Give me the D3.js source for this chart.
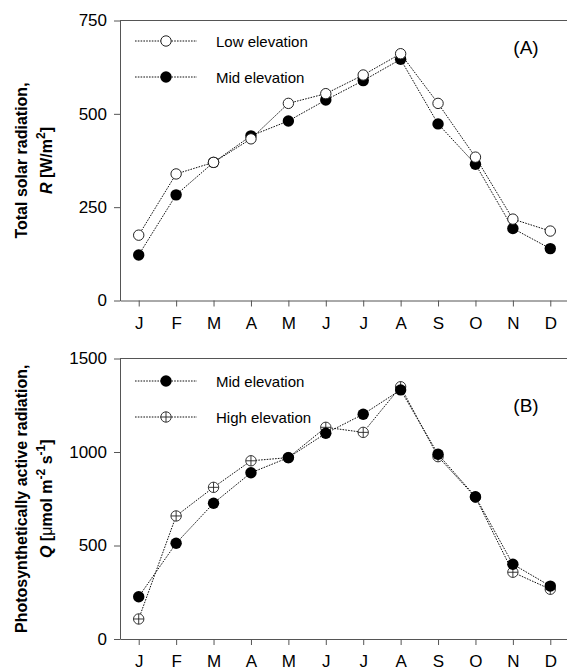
<!DOCTYPE html>
<html>
<head>
<meta charset="utf-8">
<script src="https://cdn.jsdelivr.net/npm/d3@7"></script>
<style>
  body { margin: 0; background: #fff; }
  svg { display: block; font-family: Arial, "Liberation Sans", sans-serif; }
</style>
</head>
<body>
<div id="chart"></div>
<script>
// month labels (index used as domain since letters repeat)
const months = ["J", "F", "M", "A", "M", "J", "J", "A", "S", "O", "N", "D"];

// panel A: total solar radiation R [W/m2]
const lowElevR = [175, 339, 370, 433, 528, 554, 604, 661, 528, 384, 218, 186];
const midElevR = [122, 283, 370, 441, 481, 537, 589, 646, 473, 365, 193, 139];
const ticksA = [0, 250, 500, 750];

// panel B: photosynthetically active radiation Q
const midElevQ = [226, 512, 726, 889, 970, 1100, 1202, 1332, 988, 761, 400, 283];
const highElevQ = [107, 658, 811, 953, 970, 1132, 1105, 1349, 975, 758, 357, 266];
const ticksB = [0, 500, 1000, 1500];

const width = 567, height = 670;
const left = 120, right = 569;

const svg = d3.select("#chart")
    .append("svg")
    .attr("width", width)
    .attr("height", height);

const x = d3.scalePoint(d3.range(months.length), [left, right]).padding(0.5);

const dash = "1.6,1.2";

function drawPanel(cfg) {
    const y = d3.scaleLinear([0, cfg.max], [cfg.bottom, cfg.top]);
    const g = svg.append("g");

    // top border
    g.append("line")
        .attr("x1", left).attr("x2", right)
        .attr("y1", cfg.top).attr("y2", cfg.top)
        .attr("stroke", "#555");

    const yAxis = g.append("g")
        .attr("transform", `translate(${left},0)`)
        .call(d3.axisLeft(y).tickValues(cfg.ticks).tickFormat(d3.format("d"))
            .tickSize(6).tickPadding(7).tickSizeOuter(0));
    const xAxis = g.append("g")
        .attr("transform", `translate(0,${cfg.bottom})`)
        .call(d3.axisBottom(x).tickFormat(i => months[i]).tickSize(6).tickPadding(10).tickSizeOuter(0));

    [yAxis, xAxis].forEach(a => {
        a.selectAll("path, line").attr("stroke", "#555");
        a.selectAll("text").attr("font-size", 17).attr("fill", "#000")
            .attr("font-family", "Arial, 'Liberation Sans', sans-serif");
    });

    const line = d3.line().x((d, i) => x(i)).y(d => y(d));

    cfg.series.forEach(s => {
        g.append("path")
            .datum(s.values)
            .attr("d", line)
            .attr("fill", "none")
            .attr("stroke", "#111")
            .attr("stroke-width", 1)
            .attr("stroke-dasharray", dash);
    });

    // markers: drawn in the given stacking order
    cfg.drawOrder.forEach(k => {
        const s = cfg.series[k];
        const pts = g.append("g").selectAll("g")
            .data(s.values)
            .join("g")
            .attr("transform", (d, i) => `translate(${x(i)},${y(d)})`);
        drawMarker(pts, s.marker);
    });

    // legend
    cfg.series.forEach((s, k) => {
        const ly = cfg.legendY[k];
        const lg = g.append("g").attr("transform", `translate(0,${ly})`);
        lg.append("line")
            .attr("x1", 135).attr("x2", 197)
            .attr("stroke", "#111")
            .attr("stroke-dasharray", dash);
        drawMarker(lg.append("g").attr("transform", "translate(166,0)"), s.marker);
        lg.append("text")
            .attr("x", 216).attr("y", 5.5)
            .attr("font-size", 15)
            .text(s.name);
    });

    g.append("text")
        .attr("x", 526).attr("y", cfg.labelY)
        .attr("text-anchor", "middle")
        .attr("font-size", 19)
        .text(cfg.label);

    // y title, two lines
    const cy = (cfg.top + cfg.bottom) / 2;
    const t = g.append("g")
        .attr("transform", `translate(0,${cy}) rotate(-90)`)
        .attr("font-weight", "bold")
        .attr("font-size", 16)
        .attr("text-anchor", "middle");
    t.append("text").attr("x", 0).attr("y", 27).text(cfg.title1);
    const t2 = t.append("text").attr("x", 0).attr("y", 52);
    cfg.title2(t2);
}

function drawMarker(sel, type) {
    if (type === "filled") {
        sel.append("circle").attr("r", 5.7).attr("fill", "#000");
    } else if (type === "open") {
        sel.append("circle").attr("r", 5.2).attr("fill", "#fff")
            .attr("stroke", "#222").attr("stroke-width", 1);
    } else {
        sel.append("circle").attr("r", 5.2).attr("fill", "#fff")
            .attr("stroke", "#222").attr("stroke-width", 0.9);
        sel.append("path").attr("d", "M-5.2,0H5.2M0,-5.2V5.2")
            .attr("stroke", "#222").attr("stroke-width", 0.9);
    }
}

drawPanel({
    top: 20.5, bottom: 300.5, max: 750, ticks: ticksA,
    series: [
        { name: "Low elevation", values: lowElevR, marker: "open" },
        { name: "Mid elevation", values: midElevR, marker: "filled" }
    ],
    drawOrder: [1, 0],
    legendY: [41, 77],
    label: "(A)", labelY: 54,
    title1: "Total solar radiation,",
    title2: t => {
        t.append("tspan").attr("font-style", "italic").text("R");
        t.append("tspan").text(" [W/m");
        t.append("tspan").attr("dy", -7).attr("font-size", 12).text("2");
        t.append("tspan").attr("dy", 7).text("]");
    }
});

drawPanel({
    top: 358.5, bottom: 639, max: 1500, ticks: ticksB,
    series: [
        { name: "Mid elevation", values: midElevQ, marker: "filled" },
        { name: "High elevation", values: highElevQ, marker: "crossed" }
    ],
    drawOrder: [1, 0],
    legendY: [381, 417],
    label: "(B)", labelY: 412,
    title1: "Photosynthetically active radiation,",
    title2: t => {
        t.append("tspan").attr("font-style", "italic").text("Q");
        t.append("tspan").text(" [");
        t.append("tspan").attr("font-weight", "normal").text("\u03bc");
        t.append("tspan").text("mol m");
        t.append("tspan").attr("dy", -7).attr("font-size", 12).text("-2");
        t.append("tspan").attr("dy", 7).text(" s");
        t.append("tspan").attr("dy", -7).attr("font-size", 12).text("-1");
        t.append("tspan").attr("dy", 7).text("]");
    }
});
</script>
</body>
</html>
